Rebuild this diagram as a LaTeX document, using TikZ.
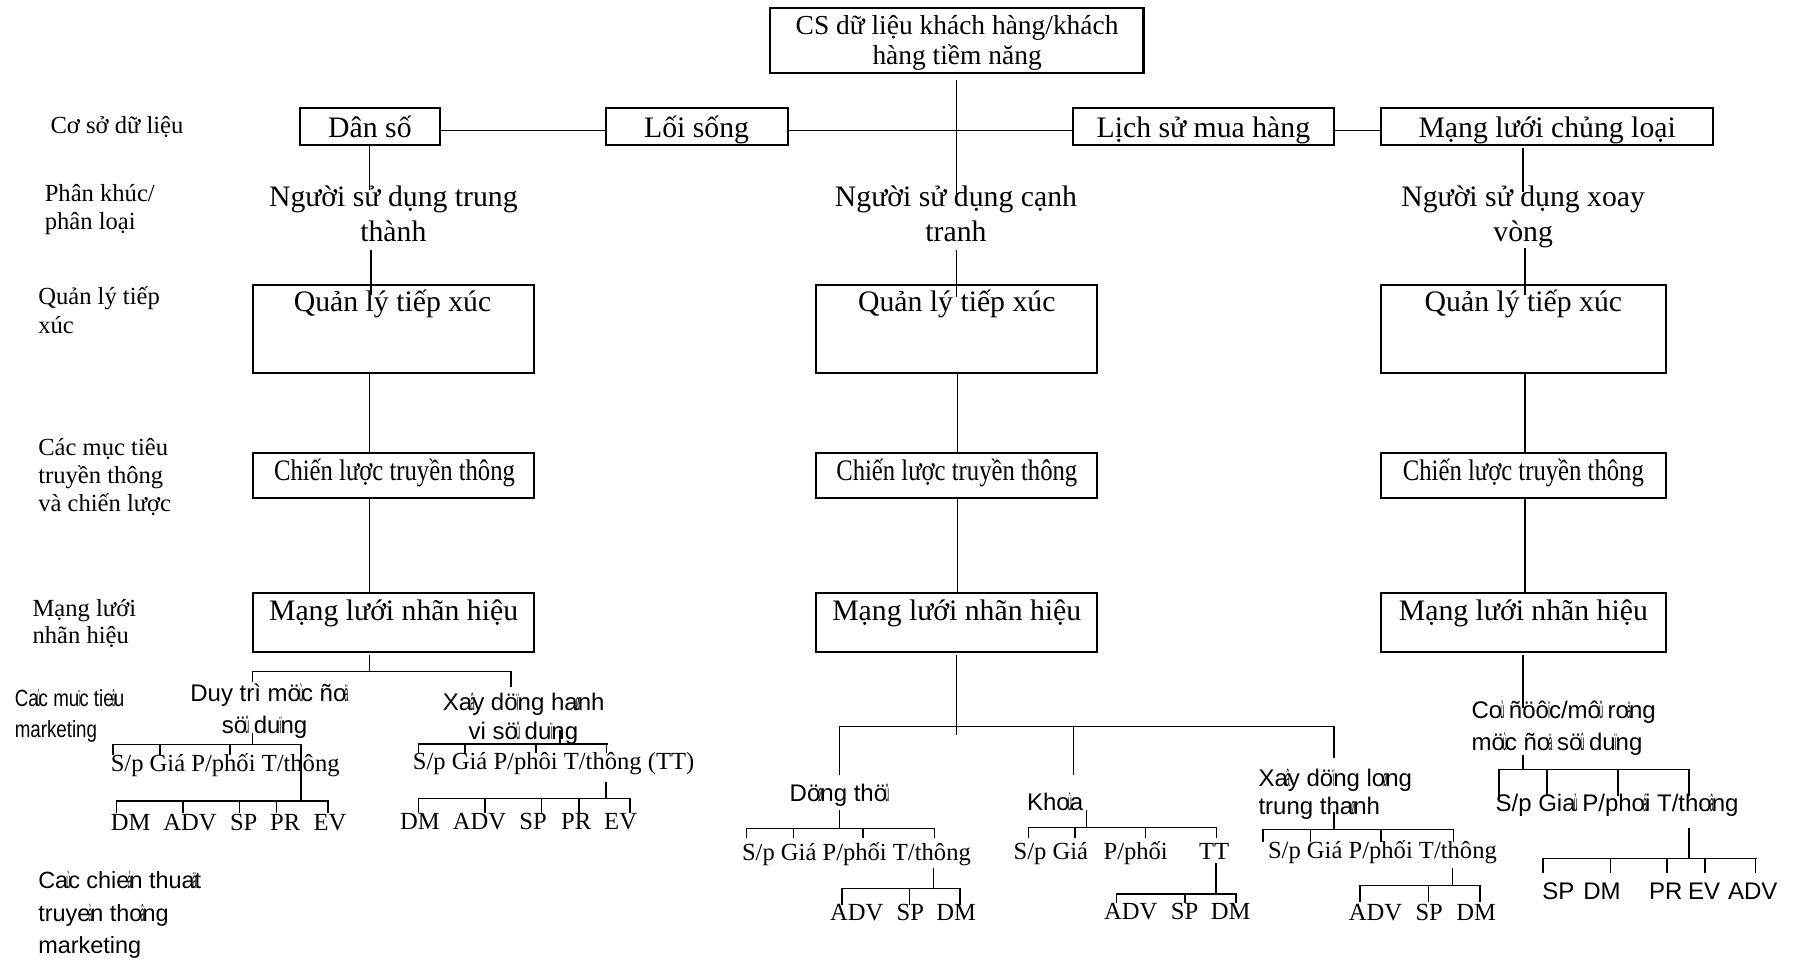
\documentclass[tikz,border=0pt]{standalone}
\usepackage{fontspec}
\usepackage{graphicx}
\setmainfont{Liberation Serif}
\setsansfont{Liberation Sans}
\newcommand\zw[1]{\makebox[0pt][c]{\scalebox{0.3}[1]{#1}}}
\begin{document}
\begin{tikzpicture}[x=1pt,y=-1pt,
  box/.style={draw, line width=1.8pt, inner sep=0pt},
  ln/.style={line width=1.3pt},
  tx/.style={anchor=base, inner sep=0pt, font=\fontsize{26}{30}\selectfont},
  lab/.style={anchor=base west, inner sep=0pt, font=\fontsize{21.5}{25}\selectfont},
  slab/.style={anchor=base west, inner sep=0pt, font=\sffamily\fontsize{20.5}{24}\selectfont},
  stx/.style={anchor=base, inner sep=0pt, font=\sffamily\fontsize{21}{25}\selectfont},
  stxl/.style={anchor=base west, inner sep=0pt, font=\sffamily\fontsize{21}{25}\selectfont},
  rtx/.style={anchor=base west, inner sep=0pt, font=\fontsize{21.5}{25}\selectfont},
]
\useasboundingbox (0,0) rectangle (1568,840);

% ---------- boxes ----------
\node[box, minimum width=327pt, minimum height=56.2pt] (top) at (836.5,35.4) {};
\node[box, minimum width=123pt, minimum height=32.1pt] (ds) at (323.5,110.75) {};
\node[box, minimum width=159pt, minimum height=32.1pt] (ls) at (609.2,110.75) {};
\node[box, minimum width=228.7pt, minimum height=32.1pt] (lsmh) at (1052.35,110.75) {};
\node[box, minimum width=290.7pt, minimum height=32.1pt] (mlcl) at (1353.05,110.75) {};

\node[box, minimum width=245.7pt, minimum height=76.7pt] (ql1) at (343.85,287.55) {};
\node[box, minimum width=246pt, minimum height=76.7pt] (ql2) at (836.7,287.55) {};
\node[box, minimum width=249pt, minimum height=76.7pt] (ql3) at (1332.2,287.55) {};

\node[box, minimum width=245.7pt, minimum height=39.3pt] (cl1) at (343.85,415.55) {};
\node[box, minimum width=246pt, minimum height=39.3pt] (cl2) at (836.7,415.55) {};
\node[box, minimum width=249pt, minimum height=39.3pt] (cl3) at (1332.2,415.55) {};

\node[box, minimum width=245.7pt, minimum height=51.6pt] (ml1) at (343.85,544.1) {};
\node[box, minimum width=246pt, minimum height=51.6pt] (ml2) at (836.7,544.1) {};
\node[box, minimum width=249pt, minimum height=51.6pt] (ml3) at (1332.2,544.1) {};

% ---------- box texts ----------
\node[tx, font=\fontsize{24}{26}\selectfont] (topa) at (837,30.6) {CS dữ liệu khách hàng/khách};
\node[tx, font=\fontsize{24}{26}\selectfont] (topb) at (837,56.8) {hàng tiềm năng};
\node[tx] (dst) at (323.5,120.4) {Dân số};
\node[tx] (lst) at (609.2,120.4) {Lối sống};
\node[tx] (lsmht) at (1052.4,120.4) {Lịch sử mua hàng};
\node[tx] (mlclt) at (1353,120.4) {Mạng lưới chủng loại};

\node[tx] (s1a) at (344,180.7) {Người sử dụng trung};
\node[tx] (s1b) at (344,211.3) {thành};
\node[tx] (s2a) at (836,180.7) {Người sử dụng cạnh};
\node[tx] (s2b) at (836,211.3) {tranh};
\node[tx] (s3a) at (1332,180.7) {Người sử dụng xoay};
\node[tx] (s3b) at (1332,211.3) {vòng};

\node[tx] (ql1t) at (343.3,272.6) {Quản lý tiếp xúc};
\node[tx] (ql2t) at (836.7,272.6) {Quản lý tiếp xúc};
\node[tx] (ql3t) at (1332.2,272.6) {Quản lý tiếp xúc};

\node[tx] (cl1t) at (345,419.8) {\scalebox{0.83}[1]{Chiến lược truyền thông}};
\node[tx] (cl2t) at (836.7,419.8) {\scalebox{0.83}[1]{Chiến lược truyền thông}};
\node[tx] (cl3t) at (1332.2,419.8) {\scalebox{0.83}[1]{Chiến lược truyền thông}};

\node[tx] (ml1t) at (344.2,542.4) {Mạng lưới nhãn hiệu};
\node[tx] (ml2t) at (836.7,542.4) {Mạng lưới nhãn hiệu};
\node[tx] (ml3t) at (1332.2,542.4) {Mạng lưới nhãn hiệu};

% ---------- left labels ----------
\node[lab] (lb1) at (44,116.6) {Cơ sở dữ liệu};
\node[lab] (lb2a) at (39,176.4) {Phân khúc/};
\node[lab] (lb2b) at (39,201.1) {phân loại};
\node[lab] (lb3a) at (33.3,266.7) {Quản lý tiếp};
\node[lab] (lb3b) at (33.3,292) {xúc};
\node[lab] (lb4a) at (33.3,397.9) {Các mục tiêu};
\node[lab] (lb4b) at (33.3,422.7) {truyền thông};
\node[lab] (lb4c) at (33.3,446.9) {và chiến lược};
\node[lab] (lb5a) at (28.3,539.3) {Mạng lưới};
\node[lab] (lb5b) at (28.3,562.6) {nhãn hiệu};
\node[slab] (lb6a) at (12.7,618) {\scalebox{0.8}[1]{Ca\zw{ù}c mu\zw{ï}c tie\zw{â}u}};
\node[slab] (lb6b) at (12.7,645) {\scalebox{0.8}[1]{marketing}};
\node[slab] (lb7a) at (33.3,776.9) {Ca\zw{ù}c chie\zw{á}n thua\zw{ä}t};
\node[slab] (lb7b) at (33.3,806) {truye\zw{à}n tho\zw{â}ng};
\node[slab] (lb7c) at (33.3,833.7) {marketing};

% ---------- top connectors ----------
\coordinate (hy) at (0,114.3);
\draw[ln] (ds.east |- hy) -- (ls.west |- hy);
\draw[ln] (ls.east |- hy) -- (lsmh.west |- hy);
\draw[ln] (lsmh.east |- hy) -- (mlcl.west |- hy);
\draw[ln] (836.4,70) -- (836.4,175);
\draw[ln] (836.4,218.6) -- (836.4,259.4);
\draw[ln] (323.3,127.4) -- (323.3,166);
\draw[ln] (324.3,218.6) -- (324.3,258);
\draw[ln] (1332,129.1) -- (1332,167.6);
\draw[ln] (1333.7,217.2) -- (1333.7,258);

\coordinate (cxl) at (323.3,0);
\coordinate (cxm) at (837.4,0);
\coordinate (cxr) at (1333.7,0);
\draw[ln] (ql1.south -| cxl) -- (cl1.north -| cxl);
\draw[ln] (cl1.south -| cxl) -- (ml1.north -| cxl);
\draw[ln] (ql2.south -| cxm) -- (cl2.north -| cxm);
\draw[ln] (cl2.south -| cxm) -- (ml2.north -| cxm);
\draw[ln] (ql3.south -| cxr) -- (cl3.north -| cxr);
\draw[ln] (cl3.south -| cxr) -- (ml3.north -| cxr);

% ---------- left tree ----------
\node[stx] (dt1) at (234.7,613.6) {Duy trì mö\zw{ù}c ño\zw{ä}};
\node[stx] (dt2) at (231.3,641.3) {sö\zw{û} du\zw{ï}ng};
\node[stx] (xh1) at (458,620.9) {Xa\zw{â}y dö\zw{ï}ng ha\zw{ø}nh};
\node[stx] (xh2) at (457.7,647.1) {vi sö\zw{û} du\zw{ï}ng};
\draw[ln] (323.3,572.8) -- (323.3,587.4);
\draw[ln] (221,596.1) -- (221,587.4) -- (446.7,587.4) -- (446.7,600.5);

\node[rtx] (m1) at (96.7,674.3) {S/p Giá P/phối T/thông};
\draw[ln] (221,641.3) -- (221,651);
\draw[ln] (99,660.3) -- (99,651) -- (263.3,651) -- (263.3,701.1);
\draw[ln] (140,651) -- (140,660.3) (201,651) -- (201,660.3);
\draw[ln] (101.7,711.3) -- (101.7,700.5) -- (286.7,700.5) -- (286.7,711.3);
\draw[ln] (160,700.5) -- (160,711.3) (209.3,700.5) -- (209.3,711.3) (241.7,700.5) -- (241.7,711.3);
\node[rtx] (w1a) at (96.7,725.9) {DM};
\node[rtx] (w1b) at (142.7,725.9) {ADV};
\node[rtx] (w1c) at (201,725.9) {SP};
\node[rtx] (w1d) at (236,725.9) {PR};
\node[rtx] (w1e) at (274,725.9) {EV};

\node[rtx] (m2) at (360.9,673.3) {S/p Giá P/phôi T/thông (TT)};
\draw[ln] (489.7,638.4) -- (489.7,650.6);
\draw[ln] (365.8,658.8) -- (365.8,650.6) -- (531.4,650.6);
\draw[ln] (406.6,650.6) -- (406.6,658.8) (468.7,650.6) -- (468.7,658.8) (530.5,650.6) -- (530.5,658.8);
\draw[ln] (530,683.5) -- (530,698.1);
\draw[ln] (365.8,711.2) -- (365.8,698.1) -- (551,698.1) -- (551,711.2);
\draw[ln] (424.1,698.1) -- (424.1,711.2) (473.7,698.1) -- (473.7,711.2) (506.3,698.1) -- (506.3,711.2);
\node[rtx] (w2a) at (349.8,725.8) {DM};
\node[rtx] (w2b) at (395.8,725.8) {ADV};
\node[rtx] (w2c) at (454,725.8) {SP};
\node[rtx] (w2d) at (490.6,725.8) {PR};
\node[rtx] (w2e) at (528.2,725.8) {EV};

% ---------- middle tree ----------
\draw[ln] (836.4,572.8) -- (836.4,642.8);
\draw[ln] (734,677.8) -- (734,635.5) -- (1166.7,635.5) -- (1166.7,663.2);
\draw[ln] (938.7,635.5) -- (938.7,677.8);

\node[stxl] (dth) at (690.4,700.5) {Dö\zw{ø}ng thö\zw{û}};
\draw[ln] (734,708.4) -- (734,724.4);
\draw[ln] (653,733.1) -- (653,724.4) -- (817.4,724.4) -- (817.4,733.1);
\draw[ln] (693.7,724.4) -- (693.7,733.1) (754.7,724.4) -- (754.7,733.1);
\node[rtx] (m3) at (648.7,752.1) {S/p Giá P/phối T/thông};
\draw[ln] (816.4,758.8) -- (816.4,776.9);
\draw[ln] (736.4,791.4) -- (736.4,776.9) -- (839.7,776.9) -- (839.7,791.4);
\draw[ln] (795.4,776.9) -- (795.4,791.4);
\node[rtx] (w3a) at (725.7,804.6) {ADV};
\node[rtx] (w3b) at (784,804.6) {SP};
\node[rtx] (w3c) at (818.7,804.6) {DM};

\node[stxl] (kh) at (898,708.4) {Kho\zw{ù}a};
\draw[ln] (950,708) -- (950,723.8);
\draw[ln] (899.3,733.1) -- (899.3,723.8) -- (1064,723.8) -- (1064,733.1);
\draw[ln] (940.1,723.8) -- (940.1,733.1) (1001.9,723.8) -- (1001.9,733.1);
\node[rtx] (m4a) at (886.2,751.5) {S/p Giá};
\node[rtx] (m4b) at (964.9,751.5) {P/phối};
\node[rtx] (m4c) at (1048.5,751.5) {TT};
\draw[ln] (1063.4,755) -- (1063.4,781.8);
\draw[ln] (976.5,790) -- (976.5,781.8) -- (1080.9,781.8) -- (1080.9,790);
\draw[ln] (1036.3,781.8) -- (1036.3,790);
\node[rtx] (w4a) at (965.4,804.5) {ADV};
\node[rtx] (w4b) at (1023.7,804.5) {SP};
\node[rtx] (w4c) at (1058.7,804.5) {DM};

\node[stxl] (xl1) at (1100.4,687.9) {Xa\zw{â}y dö\zw{ï}ng lo\zw{ø}ng};
\node[stxl] (xl2) at (1100.4,712.7) {trung tha\zw{ø}nh};
\draw[ln] (1166.7,709.8) -- (1166.7,725.3);
\draw[ln] (1104.4,736.1) -- (1104.4,725.3) -- (1271.1,725.3) -- (1271.1,736.1);
\draw[ln] (1146,725.3) -- (1146,736.1) (1207.7,725.3) -- (1207.7,736.1);
\node[rtx] (m5) at (1108.7,750.6) {S/p Giá P/phối T/thông};
\draw[ln] (1270.1,759.4) -- (1270.1,774.5);
\draw[ln] (1189.4,788.5) -- (1189.4,774.5) -- (1294.4,774.5) -- (1294.4,788.5);
\draw[ln] (1249.4,774.5) -- (1249.4,788.5);
\node[rtx] (w5a) at (1179.4,804.6) {ADV};
\node[rtx] (w5b) at (1237.7,804.6) {SP};
\node[rtx] (w5c) at (1273.4,804.6) {DM};

% ---------- right tree ----------
\draw[ln] (1332,572.8) -- (1332,619.5);
\node[stxl] (cd1) at (1286.7,628.2) {Co\zw{ù} ñöô\zw{ï}c/mô\zw{û} ro\zw{ä}ng};
\node[stxl] (cd2) at (1286.7,655.9) {mö\zw{ù}c ño\zw{ä} sö\zw{û} du\zw{ï}ng};
\draw[ln] (1332,660.3) -- (1332,672.8);
\draw[ln] (1311,699) -- (1311,672.8) -- (1477,672.8) -- (1477,696.1);
\draw[ln] (1352.7,672.8) -- (1352.7,696.1) (1415,672.8) -- (1415,696.1);
\node[stxl] (m6) at (1307.7,709.8) {S/p Gia\zw{ù} P/pho\zw{á}i T/tho\zw{â}ng};
\draw[ln] (1477,724.4) -- (1477,750.6);
\draw[ln] (1349.4,763.8) -- (1349.4,750.6) -- (1536.7,750.6);
\draw[ln] (1408.4,750.6) -- (1408.4,763.8) (1457.7,750.6) -- (1457.7,763.8) (1491,750.6) -- (1491,763.8) (1535.4,750.6) -- (1535.4,763.8);
\node[stxl] (w6a) at (1348.7,786.5) {SP};
\node[stxl] (w6b) at (1384.4,786.5) {DM};
\node[stxl] (w6c) at (1442,786.5) {PR};
\node[stxl] (w6d) at (1476,786.5) {EV};
\node[stxl] (w6e) at (1511,786.5) {ADV};
\end{tikzpicture}
\end{document}
